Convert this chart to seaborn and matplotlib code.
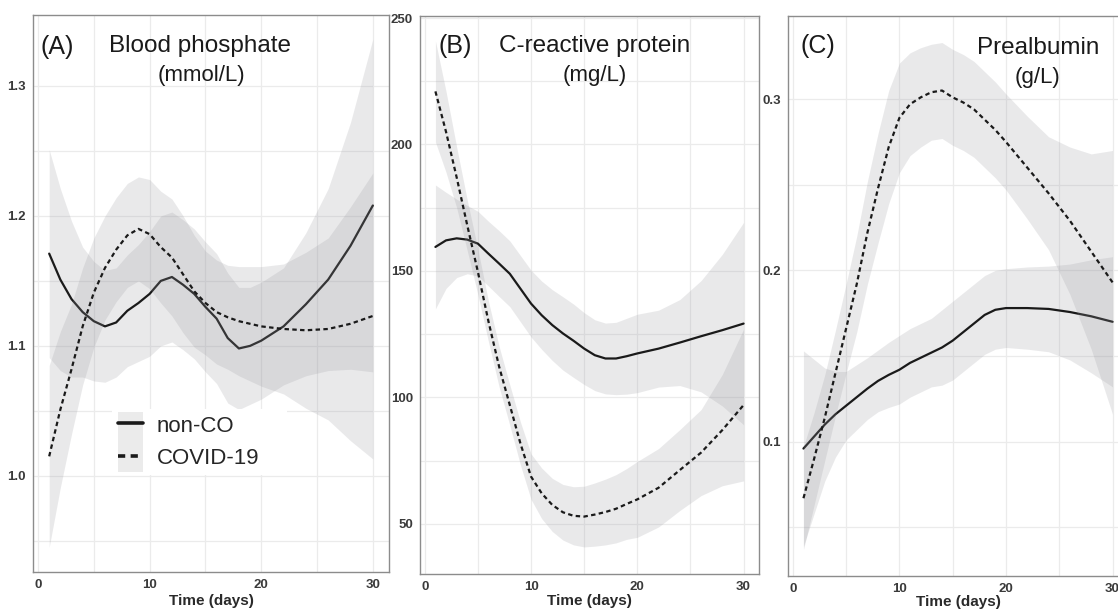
import pandas as pd
import seaborn as sns
from matplotlib import pyplot as plt
from matplotlib.lines import Line2D
from matplotlib.patches import Rectangle

# days at which the smoothed curves were read
days = [1, 2, 3, 4, 5, 6, 7, 8, 9, 10, 11, 12, 13, 14, 15, 16, 17, 18, 19, 20, 22, 24, 26, 28, 30]

# (A) blood phosphate, mmol/L
phos_nonco = [1.171, 1.151, 1.136, 1.126, 1.119, 1.115, 1.118, 1.127, 1.133, 1.140, 1.150, 1.153, 1.147,
              1.140, 1.130, 1.121, 1.106, 1.098, 1.100, 1.104, 1.115, 1.132, 1.151, 1.177, 1.208]
phos_nonco_ci = [0.080, 0.070, 0.060, 0.050, 0.046, 0.043, 0.042, 0.043, 0.045, 0.048, 0.050, 0.050, 0.050,
                 0.050, 0.050, 0.050, 0.050, 0.047, 0.045, 0.045, 0.045, 0.055, 0.070, 0.095, 0.128]
phos_covid = [1.015, 1.051, 1.082, 1.115, 1.141, 1.160, 1.174, 1.185, 1.190, 1.186, 1.176, 1.168, 1.155,
              1.142, 1.133, 1.126, 1.122, 1.119, 1.117, 1.115, 1.113, 1.112, 1.113, 1.117, 1.123]
phos_covid_ci = [0.070, 0.060, 0.050, 0.045, 0.042, 0.040, 0.040, 0.040, 0.040, 0.042, 0.043, 0.045, 0.045,
                 0.043, 0.040, 0.040, 0.040, 0.042, 0.044, 0.046, 0.050, 0.060, 0.070, 0.090, 0.110]

# (B) C-reactive protein, mg/L
crp_nonco = [159.5, 162.1, 162.9, 162.4, 160.8, 156.8, 152.9, 148.9, 143.0, 137.1, 132.5, 128.6, 125.3,
             122.4, 119.3, 116.7, 115.4, 115.4, 116.3, 117.4, 119.3, 121.7, 124.2, 126.6, 129.2]
crp_nonco_ci = [24.5, 19, 15.5, 13.5, 12.8, 12.8, 13, 13, 13.1, 13.2, 13.5, 14, 14.5,
                14.5, 14.2, 14, 14, 14.3, 15, 15.5, 15.2, 17, 22, 30, 40]
crp_covid = [221, 205, 187, 168, 149.6, 129.9, 112.1, 97, 81.8, 68.7, 62.1, 57.5, 54.6,
             53.2, 52.9, 53.7, 54.7, 56, 57.9, 59.7, 64.3, 71.3, 78.2, 87.1, 97]
crp_covid_ci = [20, 16, 12, 10, 9, 8, 8, 8, 8.5, 9, 10, 10.5, 11,
                11.5, 12, 12.5, 13, 13.5, 14, 15, 15.5, 16, 17, 22, 30]

# (C) prealbumin, g/L
pab_nonco = [0.096, 0.103, 0.110, 0.116, 0.121, 0.126, 0.131, 0.1355, 0.139, 0.142, 0.146, 0.149, 0.152,
             0.155, 0.159, 0.164, 0.169, 0.174, 0.177, 0.178, 0.178, 0.1775, 0.1757, 0.1732, 0.170]
pab_nonco_ci = [0.057, 0.045, 0.033, 0.025, 0.020, 0.019, 0.018, 0.018, 0.019, 0.020, 0.020, 0.020, 0.020,
                0.022, 0.023, 0.023, 0.023, 0.023, 0.023, 0.023, 0.024, 0.025, 0.028, 0.033, 0.038]
pab_covid = [0.067, 0.090, 0.114, 0.140, 0.166, 0.192, 0.222, 0.248, 0.272, 0.289, 0.297, 0.301, 0.304,
             0.305, 0.301, 0.298, 0.294, 0.288, 0.282, 0.275, 0.260, 0.245, 0.229, 0.211, 0.193]
pab_covid_ci = [0.030, 0.027, 0.025, 0.025, 0.026, 0.028, 0.030, 0.032, 0.033, 0.032, 0.030, 0.029, 0.028,
                0.028, 0.028, 0.028, 0.028, 0.028, 0.028, 0.028, 0.030, 0.033, 0.043, 0.057, 0.077]

groups = ['non-CO', 'COVID-19']
x_ticks = [0, 10, 20, 30]

sns.set_style('white')
plt.rcParams['font.family'] = ['Liberation Sans', 'DejaVu Sans']
tick_font = ['Liberation Sans Narrow', 'Liberation Sans', 'DejaVu Sans']

W, H = 1118, 610
fig = plt.figure(figsize=(W / 100, H / 100), dpi=100)


def box(l, t, r, b):
    return [l / W, 1 - b / H, (r - l) / W, (b - t) / H]


def ftext(x, y, s, **kw):
    fig.text(x / W, 1 - y / H, s, va='center', color='#1a1a1a', **kw)


panels = [
    dict(pos=box(33, 15, 389, 572), ylim=(0.926, 1.3546), yt=[1.0, 1.1, 1.2, 1.3], ym=[0.95, 1.05, 1.15, 1.25],
         fmt='{:.1f}', lpad=2, series=(phos_nonco, phos_nonco_ci, phos_covid, phos_covid_ci)),
    dict(pos=box(420, 16, 759, 574), ylim=(30.2, 250.8), yt=[50, 100, 150, 200, 250], ym=[75, 125, 175, 225],
         fmt='{:.0f}', lpad=0.5, series=(crp_nonco, crp_nonco_ci, crp_covid, crp_covid_ci)),
    dict(pos=box(788, 16, 1128, 576), ylim=(0.0216, 0.3485), yt=[0.1, 0.2, 0.3], ym=[0.05, 0.15, 0.25],
         fmt='{:.1f}', lpad=0, series=(pab_nonco, pab_nonco_ci, pab_covid, pab_covid_ci)),
]

dash = (0, (2, 1.5))
axes = []
for p in panels:
    ax = fig.add_axes(p['pos'])
    nonco, nonco_ci, covid, covid_ci = p['series']
    z = 2
    # ribbon then line for each group, like geom_smooth does
    for vals, ci, ls in [(nonco, nonco_ci, '-'), (covid, covid_ci, dash)]:
        lo = [v - c for v, c in zip(vals, ci)]
        hi = [v + c for v, c in zip(vals, ci)]
        ax.fill_between(days, lo, hi, color='#9a9aa0', alpha=0.21, lw=0, zorder=z)
        sns.lineplot(x=days, y=vals, ax=ax, color='#1a1a1a', lw=1.6, linestyle=ls, zorder=z + 1)
        z += 2
    ax.set_xlim(-0.45, 31.45)
    ax.set_ylim(*p['ylim'])
    ax.set_xticks(x_ticks, [str(t) for t in x_ticks], fontweight='bold', family=tick_font)
    ax.set_yticks(p['yt'], [p['fmt'].format(t) for t in p['yt']], fontweight='bold', family=tick_font)
    ax.set_xticks([5, 15, 25], minor=True)
    ax.set_yticks(p['ym'], minor=True)
    ax.grid(which='both', color='#ebebeb', lw=0.9)
    ax.set_axisbelow(True)
    ax.tick_params(which='major', length=3, width=0.8, color='#8c8c8c', labelsize=9.5,
                   labelcolor='#3a3a3a', pad=2)
    ax.tick_params(which='minor', length=0)
    for s in ax.spines.values():
        s.set_color('#8c8c8c')
        s.set_linewidth(1.0)
    ax.set_xlabel('Time (days)', fontweight='bold', fontsize=11, labelpad=p['lpad'], color='#2a2a2a',
                  family=tick_font)
    ax.set_ylabel('')
    axes.append(ax)

# legend in panel A: white box, grey key column
ax = axes[0]
handles = [Line2D([], [], color='#1a1a1a', lw=2.6),
           Line2D([], [], color='#1a1a1a', lw=2.6, linestyle=dash)]
fs = 16
hl = 1.15
leg = ax.legend(handles, groups, loc='upper left', bbox_to_anchor=(0.222, 0.293),
                frameon=False, fontsize=fs, handlelength=hl, handleheight=1.0, labelspacing=0.45,
                handletextpad=0.6, borderpad=0.25, borderaxespad=0)
leg.set_zorder(10)
fig.canvas.draw()
bb = leg.get_window_extent().transformed(fig.transFigure.inverted())
pad_f = 0.25 * fs / 72 * 100 / W
key_w = hl * fs / 72 * 100 / W
fig.add_artist(Rectangle((bb.x0, bb.y0), bb.width + 0.02, bb.height, transform=fig.transFigure,
                         facecolor='white', edgecolor='none', zorder=8))
fig.add_artist(Rectangle((bb.x0 + pad_f, bb.y0 + 0.005), key_w, bb.height - 0.01,
                         transform=fig.transFigure, facecolor='#ebebeb', edgecolor='none', zorder=9))
leg.remove()
fig.add_artist(leg)

# panel tags and titles
ftext(40, 47, '(A)', fontsize=18, ha='left')
ftext(200, 46, 'Blood phosphate', fontsize=17.5, ha='center')
ftext(201, 75, '(mmol/L)', fontsize=16, ha='center')
ftext(438, 46, '(B)', fontsize=18, ha='left')
ftext(595, 46, 'C-reactive protein', fontsize=17.5, ha='center')
ftext(595, 75, '(mg/L)', fontsize=16, ha='center')
ftext(800, 46, '(C)', fontsize=18, ha='left')
ftext(1038, 48, 'Prealbumin', fontsize=17.5, ha='center')
ftext(1038, 77, '(g/L)', fontsize=16, ha='center')

fig.savefig('out.png', dpi=100)
